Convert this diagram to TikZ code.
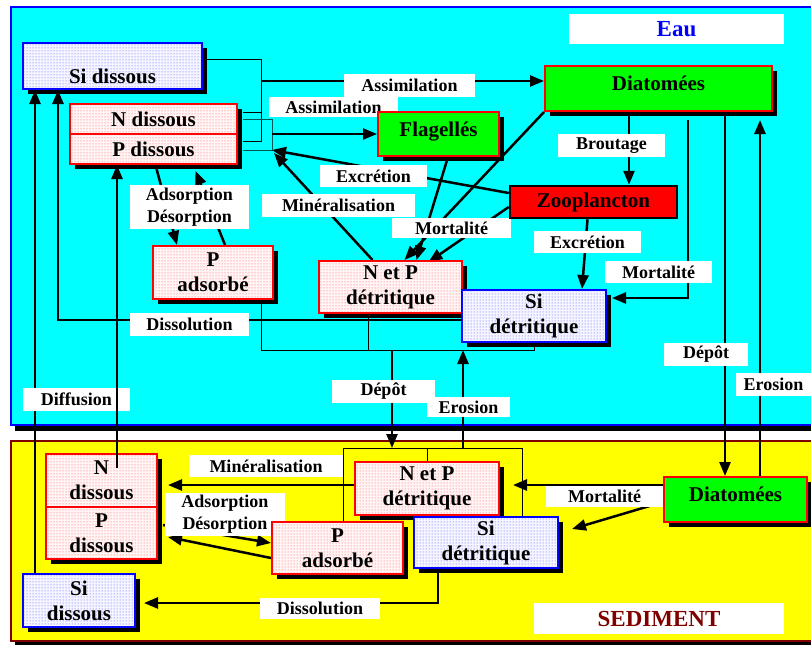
\documentclass[tikz,border=0pt]{standalone}
\usepackage{fontspec}
\setmainfont{Liberation Serif}
\usepackage{tikz}
\usetikzlibrary{arrows.meta,shadows,patterns,backgrounds}

\definecolor{eau}{RGB}{0,255,255}
\definecolor{sedim}{RGB}{255,255,0}
\definecolor{bordeaux}{RGB}{128,0,0}
\definecolor{vert}{RGB}{0,255,0}
\definecolor{sarcelle}{RGB}{0,85,85}

\pgfdeclarelayer{fond}
\pgfdeclarelayer{liens}
\pgfdeclarelayer{etiq}
\pgfsetlayers{fond,liens,etiq,main}

\newcommand{\basse}[2]{\raisebox{#1}[0pt][0pt]{#2}}

\begin{document}
\begin{tikzpicture}[x=1pt,y=-1pt,
  ombre/.style={drop shadow={shadow xshift=5pt,shadow yshift=-5pt,fill=black,opacity=1}},
  boite/.style={draw,line width=2pt,inner sep=0pt,align=center,font=\bfseries\fontsize{21}{25}\selectfont},
  azote/.style={boite,ombre,draw=red,fill=red!4,postaction={pattern=dots,pattern color=red!70}},
  silice/.style={boite,ombre,draw=blue,fill=blue!4,postaction={pattern=dots,pattern color=blue!70}},
  algue/.style={boite,ombre,draw=red,fill=vert},
  etiquette/.style={fill=white,inner sep=0pt,align=center,font=\bfseries\fontsize{18}{22}\selectfont},
  flux/.style={line width=2.5pt,-{Triangle[length=14pt,width=11pt]}},
  fin/.style={line width=0.8pt}]
\useasboundingbox (0,0) rectangle (811,645);

\begin{pgfonlayer}{fond}
  \fill[black] (15,12) rectangle (825,431);
  \draw[fill=eau,draw=blue,line width=2.5pt] (11,7) rectangle (820,425);
  \fill[black] (15,446) rectangle (825,645);
  \draw[fill=sedim,draw=bordeaux,line width=2pt] (11,441) rectangle (820,641);
\end{pgfonlayer}

  \draw (112.5,66) node[silice,minimum width=179pt,minimum height=46pt] (SiW) {\basse{-17pt}{Si dissous}};
  \draw (153.5,119) node[azote,minimum width=167pt,minimum height=30pt] (NW) {N dissous};
  \draw (153.5,149) node[azote,minimum width=167pt,minimum height=30pt] (PW) {P dissous};
  \draw (438.5,134) node[algue,minimum width=121pt,minimum height=44pt] (Flag) {\basse{-2pt}{Flagellés}};
  \draw (658.5,88.5) node[algue,minimum width=227pt,minimum height=45pt] (DiaW) {\basse{-1.5pt}{Diatomées}};
  \draw (593.5,202) node[boite,draw=black,line width=2.5pt,fill=red,minimum width=167pt,minimum height=32pt] (Zoo) {Zooplancton};
  \draw (213,272.5) node[azote,minimum width=120pt,minimum height=53pt] (PadsW) {P\\adsorbé};
  \draw (390.5,287) node[azote,minimum width=143pt,minimum height=52pt] (NPW) {N et P\\détritique};
  \draw (534,316) node[silice,minimum width=144pt,minimum height=52pt] (SiDW) {Si\\détritique};

  \draw (101.5,480.5) node[azote,minimum width=111pt,minimum height=53pt] (NS) {N\\dissous};
  \draw (101.5,533) node[azote,minimum width=111pt,minimum height=52pt] (PS) {P\\dissous};
  \draw (79,600.5) node[silice,minimum width=112pt,minimum height=53pt] (SiS) {Si\\dissous};
  \draw (337.5,548) node[azote,minimum width=131pt,minimum height=52pt] (PadsS) {P\\adsorbé};
  \draw (427,488.5) node[azote,minimum width=144pt,minimum height=53pt] (NPS) {N et P\\détritique};
  \draw (486,542.5) node[silice,minimum width=144pt,minimum height=51pt] (SiDS) {Si\\détritique};
  \draw (735.5,499.5) node[algue,minimum width=143pt,minimum height=45pt] (DiaS) {\basse{-1.5pt}{Diatomées}};

  \coordinate (SiT) at (261,59);
  \coordinate (SiB) at (261,141);
  \coordinate (SiA) at (261,81);
  \coordinate (NPT) at (272,119);
  \coordinate (NPB) at (272,150);
  \coordinate (NPA) at (272,134);
  \coordinate (dissW) at (58,320);
  \coordinate (depW) at (392,350);
  \coordinate (erosW) at (463,350);
  \coordinate (depS) at (392,448);
  \coordinate (erosS) at (463,448);
  \coordinate (brS) at (522,448);
  \coordinate (erosD) at (760,120);

\begin{pgfonlayer}{liens}
  \draw[fin] ([yshift=7pt]SiW.east) -- (SiT) -- (SiB) -- ([xshift=5pt,yshift=8pt]PW.east);
  \draw[fin] ([xshift=5pt,yshift=7pt]NW.east) -- ++(19,0);
  \draw[fin,sarcelle] ([xshift=5pt]NW.east) -- (NPT) -- (NPB) -- ([xshift=5pt,yshift=-1pt]PW.east);
  \draw[flux] (SiA) -- (SiA -| DiaW.west);
  \draw[flux] (NPA) -- (Flag.west);
  \draw[flux] ([yshift=9pt]Zoo.west) -- (NPB);
  \draw[flux] ([xshift=-18pt]NPW.north) -- ([xshift=2pt,yshift=-3pt]NPB);
  \draw[flux] (DiaW.south west) -- ([xshift=14pt]NPW.north);
  \draw[flux] ([xshift=9.5pt]Flag.south) -- ([xshift=26pt]NPW.north);
  \draw[flux] ([yshift=-5pt]Zoo.west) -- ([xshift=38pt,yshift=-2pt]NPW.north);
  \draw[flux] ([xshift=-29.5pt]DiaW.south) -- ([xshift=-29.5pt]DiaW.south |- Zoo.north);
  \draw[flux] ([xshift=-6pt]Zoo.south) -- ([xshift=48pt]SiDW.north);
  \draw[flux] ([xshift=29.5pt,yshift=-8pt]DiaW.south) |- ([xshift=5pt,yshift=18pt]SiDW.east);
  \draw[flux] ([xshift=66.5pt]DiaW.south) -- ([xshift=66.5pt]DiaW.south |- DiaS.north);
  \draw[flux] (erosD |- DiaS.north) -- (erosD);
  \draw[flux] ([xshift=2pt]PW.south) -- ([xshift=-36pt]PadsW.north);
  \draw[flux] ([xshift=12pt]PadsW.north) -- ([xshift=42pt,yshift=-6pt]PW.south);
  \draw[flux] ([xshift=-44pt]SiS.north) -- ([xshift=-44pt]SiS.north |- SiW.south);
  \draw[flux] ([yshift=-4pt]SiDW.west) -- (dissW) -- (dissW |- SiW.south);
  \draw[fin] ([xshift=48pt]PadsW.south) |- (SiDW.south |- depW) -- (SiDW.south);
  \draw[fin] ([xshift=-22.5pt]NPW.south) |- (depW);
  \draw[flux] (depW) -- (depS);
  \draw[flux] (erosS) -- (erosW);
  \draw[fin] ([xshift=5.5pt]PadsS.north) |- (brS) -- (brS |- SiDS.north);
  \draw[fin] (NPS.north) -- (NPS.north |- brS);
  \draw[flux] ([yshift=3.5pt]NPS.west) -- ([xshift=10pt,yshift=-4.5pt]NS.east);
  \draw[flux] ([xshift=5pt,yshift=8pt]PS.east) -- ([yshift=5pt]PadsS.west);
  \draw[flux] ([yshift=-10pt]PadsS.west) -- ([xshift=10pt,yshift=-4pt]PS.east);
  \draw[flux] ([xshift=-48pt]SiDS.south) |- ([xshift=8pt,yshift=-2.5pt]SiS.east);
  \draw[flux] ([yshift=14.5pt]DiaS.west) -- ([xshift=13pt,yshift=3.5pt]NPS.east);
  \draw[flux] ([yshift=-2.5pt]DiaS.west) -- ([xshift=13pt,yshift=13.5pt]SiDS.east);
\end{pgfonlayer}
  \draw[flux] ([xshift=15.5pt,yshift=-15pt]NS.north) -- ([xshift=15.5pt]NS.north |- PW.south);

\begin{pgfonlayer}{etiq}
  \draw (676.5,29) node[etiquette,minimum width=215pt,minimum height=30pt,font=\bfseries\fontsize{23}{25}\selectfont,text=blue] (eaulab) {Eau};
  \draw (659,618.5) node[etiquette,minimum width=250pt,minimum height=31pt,font=\bfseries\fontsize{23}{25}\selectfont,text=bordeaux] (sedlab) {SEDIMENT};
  \draw (409.5,85.5) node[etiquette,minimum width=131pt,minimum height=23pt] (assim1) {Assimilation};
  \draw (333.5,107) node[etiquette,minimum width=129pt,minimum height=20pt] (assim2) {Assimilation};
  \draw (611.5,145.5) node[etiquette,minimum width=107pt,minimum height=23pt] (brout) {Broutage};
  \draw (373.5,176) node[etiquette,minimum width=107pt,minimum height=22pt] (excr1) {Excrétion};
  \draw (338.5,205.5) node[etiquette,minimum width=153pt,minimum height=23pt] (miner1) {Minéralisation};
  \draw (451.5,228) node[etiquette,minimum width=119pt,minimum height=20pt] (mort1) {Mortalité};
  \draw (189.5,207) node[etiquette,minimum width=119pt,minimum height=44pt] (adsdes1) {Adsorption\\Désorption};
  \draw (587.5,242) node[etiquette,minimum width=107pt,minimum height=22pt] (excr2) {Excrétion};
  \draw (658.5,272) node[etiquette,minimum width=107pt,minimum height=22pt] (mort2) {Mortalité};
  \draw (189.5,324.5) node[etiquette,minimum width=119pt,minimum height=23pt] (dissol1) {Dissolution};
  \draw (383.5,391.5) node[etiquette,minimum width=103pt,minimum height=23pt] (depot1) {Dépôt};
  \draw (468.5,407) node[etiquette,minimum width=83pt,minimum height=20pt] (eros1) {Erosion};
  \draw (706,354.5) node[etiquette,minimum width=84pt,minimum height=23pt] (depot2) {Dépôt};
  \draw (773.5,384.5) node[etiquette,minimum width=75pt,minimum height=23pt] (eros2) {Erosion};
  \draw (76.5,399.5) node[etiquette,minimum width=107pt,minimum height=23pt] (diffus) {Diffusion};
  \draw (266,466) node[etiquette,minimum width=154pt,minimum height=22pt] (miner2) {Minéralisation};
  \draw (225,514.5) node[etiquette,minimum width=120pt,minimum height=43pt] (adsdes2) {Adsorption\\Désorption};
  \draw (604.5,496.5) node[etiquette,minimum width=117pt,minimum height=21pt] (mort3) {Mortalité};
  \draw (320,608.5) node[etiquette,minimum width=120pt,minimum height=21pt] (dissol2) {Dissolution};
\end{pgfonlayer}

\end{tikzpicture}
\end{document}
